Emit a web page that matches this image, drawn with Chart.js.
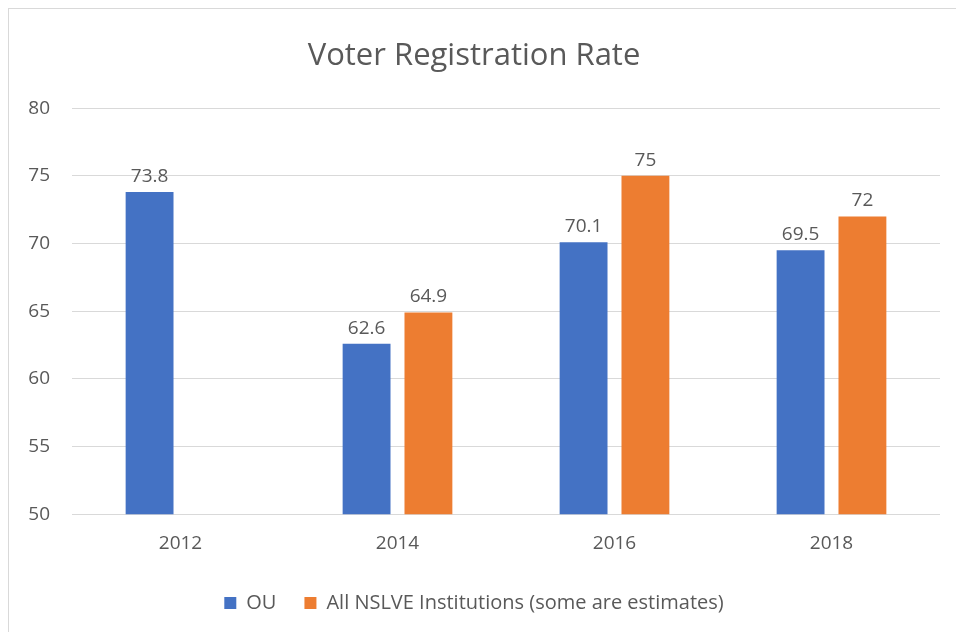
<!DOCTYPE html>
<html>
<head>
<meta charset="utf-8">
<script src="https://cdn.jsdelivr.net/npm/chart.js@4"></script>
<style>
  body { margin: 0; background: #fff; }
  #frame { position: absolute; left: 8px; top: 8px; width: 960px; height: 640px; border: 1px solid #d9d9d9; }
  #c { position: absolute; left: 0; top: 0; }
</style>
</head>
<body>
<div id="frame"></div>
<canvas id="c" width="956" height="632"></canvas>
<script>
var years = ["2012", "2014", "2016", "2018"];
var ouValues = [73.8, 62.6, 70.1, 69.5];
var nslveValues = [null, 64.9, 75, 72];
var seriesNames = ["OU", "All NSLVE Institutions (some are estimates)"];

var textColor = "#595959";
var fontFamily = "'Open Sans', 'Noto Sans', sans-serif";

// writes the value on top of each bar
var barLabels = {
    id: "barLabels",
    afterDatasetsDraw: function(chart) {
        var ctx = chart.ctx;
        ctx.save();
        ctx.font = "19px " + fontFamily;
        ctx.fillStyle = textColor;
        ctx.textAlign = "center";
        ctx.textBaseline = "bottom";
        chart.data.datasets.forEach(function(ds, i) {
            var meta = chart.getDatasetMeta(i);
            meta.data.forEach(function(bar, j) {
                var v = ds.data[j];
                if (v == null) return;
                ctx.fillText(String(v), bar.x, bar.y - 6);
            });
        });
        ctx.restore();
    }
};

new Chart(document.getElementById("c"), {
    type: "bar",
    data: {
        labels: years,
        datasets: [{
            label: seriesNames[0],
            data: ouValues,
            backgroundColor: "#4472c4",
            categoryPercentage: 0.57,
            barPercentage: 0.774
        }, {
            label: seriesNames[1],
            data: nslveValues,
            backgroundColor: "#ed7d31",
            categoryPercentage: 0.57,
            barPercentage: 0.774
        }]
    },
    options: {
        responsive: false,
        animation: false,
        layout: { padding: { left: 8, right: 16, top: 10, bottom: 9 } },
        plugins: {
            title: {
                display: true,
                text: "Voter Registration Rate",
                color: textColor,
                font: { family: fontFamily, size: 31, weight: "normal" },
                padding: { top: 28, bottom: 33 }
            },
            legend: {
                position: "bottom",
                labels: {
                    color: textColor,
                    boxWidth: 12,
                    boxHeight: 12,
                    padding: 28,
                    font: { family: fontFamily, size: 20 }
                }
            },
            tooltip: { enabled: false }
        },
        scales: {
            x: {
                grid: { display: false },
                border: { display: false },
                ticks: { color: textColor, padding: 10, font: { family: fontFamily, size: 19 } }
            },
            y: {
                min: 50,
                max: 80,
                ticks: { stepSize: 5, color: textColor, padding: 22, font: { family: fontFamily, size: 19 } },
                grid: { color: "#d9d9d9", drawTicks: false },
                border: { display: false },
                afterFit: function(scale) { scale.width = 64; }
            }
        }
    },
    plugins: [barLabels]
});
</script>
</body>
</html>
